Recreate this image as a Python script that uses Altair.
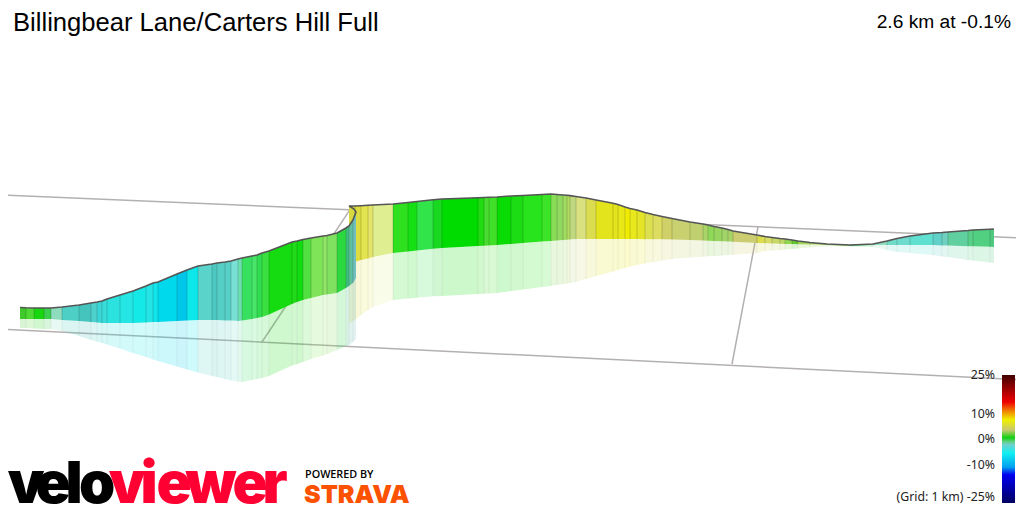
import altair as alt
import pandas as pd

left_x = [20,26,34,44,51,62,79,91,97,102,107,120,133,146,153,158,177,187,198,212,217,225,231,238,242,252,257,262,269,292,297,303,311,323,327,337,346,349,353,356]
left_top = [307.5,307.8,308,308,308,307,305,303,302,301,299,295,291,286,283,282,274,270,266,264,263,262,261,259,258,256,255,253,251,242,241,239.5,238,236,235.5,233,228,226,220,212]
left_bottom = [319,319,319,319,319,320,321,322,322.5,323,323,323,323,322.5,322,322,321,320.5,320,320,320,320.5,320.5,321,320.5,319,318,317,314.5,304,302,300,298,295,294.5,293,288,286,283,278]
left_shadow = [328,328,328.5,329,329,331,336,340,341.5,343,344.5,348.5,353,357,359.5,361,366.5,369.5,372.5,376,377,379,380.5,381.5,382,380,379,378,376,365.5,364,362,359,355.5,354,350,346,345,342,339]
left_colors = ["#3fc92b","#4fd934","#18d60f","#39d04f","#8cdcbd","#4dcfc5","#45c4bd","#4ed0cd","#3ad6d5","#38dcd9","#2ce2df","#25e6e4","#15e9e7","#25e4e6","#10e4ec","#00d8ec","#00c6ea","#0ce8ea","#5ad3ca","#4dc8c0","#55cfc5","#58d0c8","#78e0d4","#6de0b0","#38e060","#48e668","#30dc50","#38e040","#14dc10","#20dc18","#10dc10","#50e040","#80e458","#90e468","#80e060","#2cd840","#40c080","#60c0a0","#70c0c0"]

right_x = [349,355,361,368,373,393,408,417,433,442,478,484,489,497,511,523,542,551,557,563,567,570,576,586,596,613,618,625,630,637,645,653,662,672,690,703,708,714,722,728,733,757,765,772,780,785,792,798,810,827,850,873,887,897,910,933,942,948,968,973,990,994]
right_top = [206,206,205.7,205.3,205,204,202.5,201.5,199.7,199,197.7,197.5,197.3,197,196,195.5,194.5,194,194.5,195,195.3,195.6,196.5,198,200,203.3,204.5,207,208.5,210,212.5,214.5,216.5,218.5,222,224,225,226.5,228,229.5,231,235,236.5,237.5,238.5,239,240,241,242.5,244,245,244,241,238.5,236,233,232.5,232,230.5,230,229.2,229]
right_bottom = [264,262,260,258.5,257,253,251.5,250.5,248.7,248,246,245.7,245.4,245,244,243,241.6,241,240.5,240,239.7,239.4,239,239,239,239,239,239,239,239,239.2,239.2,239.3,239.5,240,240.5,240.7,241,241.2,241.5,241.7,243,243.3,243.5,243.7,244,244.1,244.2,244.6,245,246,245,245,245,245,245,245.4,245.6,246.2,246.3,246.8,247]
right_shadow = [323,320,315,310,307,300,298.5,297.7,296.3,296,294,293.7,293.4,293,291,289.5,287,286,285,284,283.5,283,282,279,276,271.5,270,268,266.5,265,263.5,262,260.5,259,257.5,256.7,256.3,256,255.5,255,254.8,253,251,250.5,250,249.5,249,248.5,247.5,246.2,246.5,247,250,252,253,255,256.5,257,260,260.5,262.5,263]
right_colors = ["#d8d840","#dcdc40","#e4e450","#e4e468","#dfee90","#2ee01e","#14e014","#30e44a","#18d820","#00dc00","#20dc10","#48dc30","#40e028","#08dc04","#1cdc14","#28e41c","#3ce428","#88dc58","#90d860","#a0dc60","#b0dc60","#c0d880","#d8e080","#dcdc50","#e4e41c","#e4e41c","#e8e818","#f0ec00","#e8e81c","#e4e428","#dce050","#dcdc60","#d0d068","#c8d070","#c0d070","#a8d468","#90d858","#98d460","#a0d468","#a8d468","#cccc70","#dcdc50","#d8dc68","#c8d868","#c0d868","#90d850","#60c830","#a0d858","#b0d868","#90d860","#40d060","#90e0c0","#70dcc8","#70dcd0","#60e0d0","#60d0c8","#70d0c0","#60d0a0","#58d088","#50d080","#50c880"]

fold_x = [354, 350]
fold_y = [209, 206.5]

grid_x = [8,1016, 8,1016, 350,262, 758,732]
grid_y = [195.3,237.7, 329.4,379.6, 209.7,342, 226.8,364]
grid_id = [0,0,1,1,2,2,3,3]

bar_stops = [(0,"#000060"),(0.22,"#0000f0"),(0.28,"#00a0f0"),(0.39,"#10f0f0"),(0.455,"#70d0d0"),(0.48,"#60d080"),(0.51,"#10d010"),(0.57,"#c8c870"),(0.65,"#f0f000"),(0.72,"#f08000"),(0.79,"#f00000"),(1,"#400000")]

legend_text = ["25%","10%","0%","-10%","(Grid: 1 km) -25%"]
legend_y = [379,418,443,469,500.5]

logo_letters = list("veloviewer")
logo_x = [26,53,74,97,127,149,174,211,250,275]
logo_colors = ["#000000"]*4 + ["#ff0033"]*6

sx = alt.Scale(domain=[8,1016], nice=False, zero=False)
sy = alt.Scale(domain=[504,8], nice=False, zero=False)
X = alt.X("x:Q", scale=sx, axis=None)
Y = alt.Y("y:Q", scale=sy, axis=None)


def ribbon(xs, tops, bottoms, shadows, colors):
    rows_r, rows_s, edges_r, edges_s = [], [], [], []
    for i, c in enumerate(colors):
        for j in (i, i + 1):
            rows_r.append({"x": xs[j], "y": tops[j], "y2": bottoms[j], "c": c, "seg": i})
            rows_s.append({"x": xs[j], "y": bottoms[j], "y2": shadows[j], "c": c, "seg": i})
    for j in range(1, len(xs) - 1):
        edges_r.append({"x": xs[j], "y": tops[j], "y2": bottoms[j]})
        edges_s.append({"x": xs[j], "y": bottoms[j], "y2": shadows[j]})

    def area(rows, op):
        return alt.Chart(pd.DataFrame(rows)).mark_area(opacity=op, line=False, interpolate="linear").encode(
            x=X, y=Y, y2="y2:Q", color=alt.Color("c:N", scale=None), detail="seg:N")

    def rule(rows, op):
        return alt.Chart(pd.DataFrame(rows)).mark_rule(color="#000000", opacity=op, strokeWidth=1).encode(
            x=X, y=Y, y2="y2:Q")

    return [area(rows_s, 0.2), rule(edges_s, 0.05), area(rows_r, 1), rule(edges_r, 0.17)]


grid = alt.Chart(pd.DataFrame({"x": grid_x, "y": grid_y, "id": grid_id})).mark_line(
    color="#b4b0b0", strokeWidth=1.5).encode(x=X, y=Y, detail="id:N")

line_x = left_x + fold_x + right_x
line_y = left_top + fold_y + right_top
profile = alt.Chart(pd.DataFrame({"x": line_x, "y": line_y, "i": range(len(line_x))})).mark_line(
    color="#555555", strokeWidth=1.6).encode(x=X, y=Y, order="i:Q")


def txt(text, x, y, size, align="left", font="Liberation Sans", color="#000000", weight="normal"):
    return alt.Chart(pd.DataFrame({"x": [x], "y": [y], "t": [text]})).mark_text(
        align=align, baseline="alphabetic", fontSize=size, font=font, color=color, fontWeight=weight
    ).encode(x=X, y=Y, text="t:N")


bar = alt.Chart(pd.DataFrame({"x": [1002], "x2": [1015], "y": [375], "y2": [503]})).mark_rect(
    color=alt.Gradient(gradient="linear", x1=0, x2=0, y1=1, y2=0,
                       stops=[alt.GradientStop(offset=o, color=c) for o, c in bar_stops])
).encode(x=X, x2="x2:Q", y=Y, y2="y2:Q")

legend = alt.Chart(pd.DataFrame({"x": [995] * 5, "y": legend_y, "t": legend_text})).mark_text(
    align="right", baseline="alphabetic", fontSize=12.3, font="Noto Sans", color="#222222"
).encode(x=X, y=Y, text="t:N")

logo = alt.Chart(pd.DataFrame({"x": logo_x, "y": [503] * 10, "t": logo_letters, "c": logo_colors})).mark_text(
    align="center", baseline="alphabetic", fontSize=58, font="Inter", fontWeight=900
).encode(x=X, y=Y, text="t:N", color=alt.Color("c:N", scale=None))

layers = [grid]
layers += ribbon(right_x, right_top, right_bottom, right_shadow, right_colors)
layers += ribbon(left_x, left_top, left_bottom, left_shadow, left_colors)
layers += [profile, bar, legend, logo,
           txt("Billingbear Lane/Carters Hill Full", 13, 31, 25.6),
           txt("2.6 km at -0.1%", 1011, 28, 19.2, align="right"),
           txt("POWERED BY", 305, 478, 10.8, font="Open Sans", weight=600),
           txt("STRAVA", 304, 503, 25, font="Inter", color="#fc5200", weight=900)]

chart = alt.layer(*layers).properties(
    width=1008, height=496, padding=0, background="#ffffff",
    autosize=alt.AutoSizeParams(type="none")
).configure_view(stroke=None)

chart.save("out.html", embed_options={"renderer": "svg", "actions": False})
